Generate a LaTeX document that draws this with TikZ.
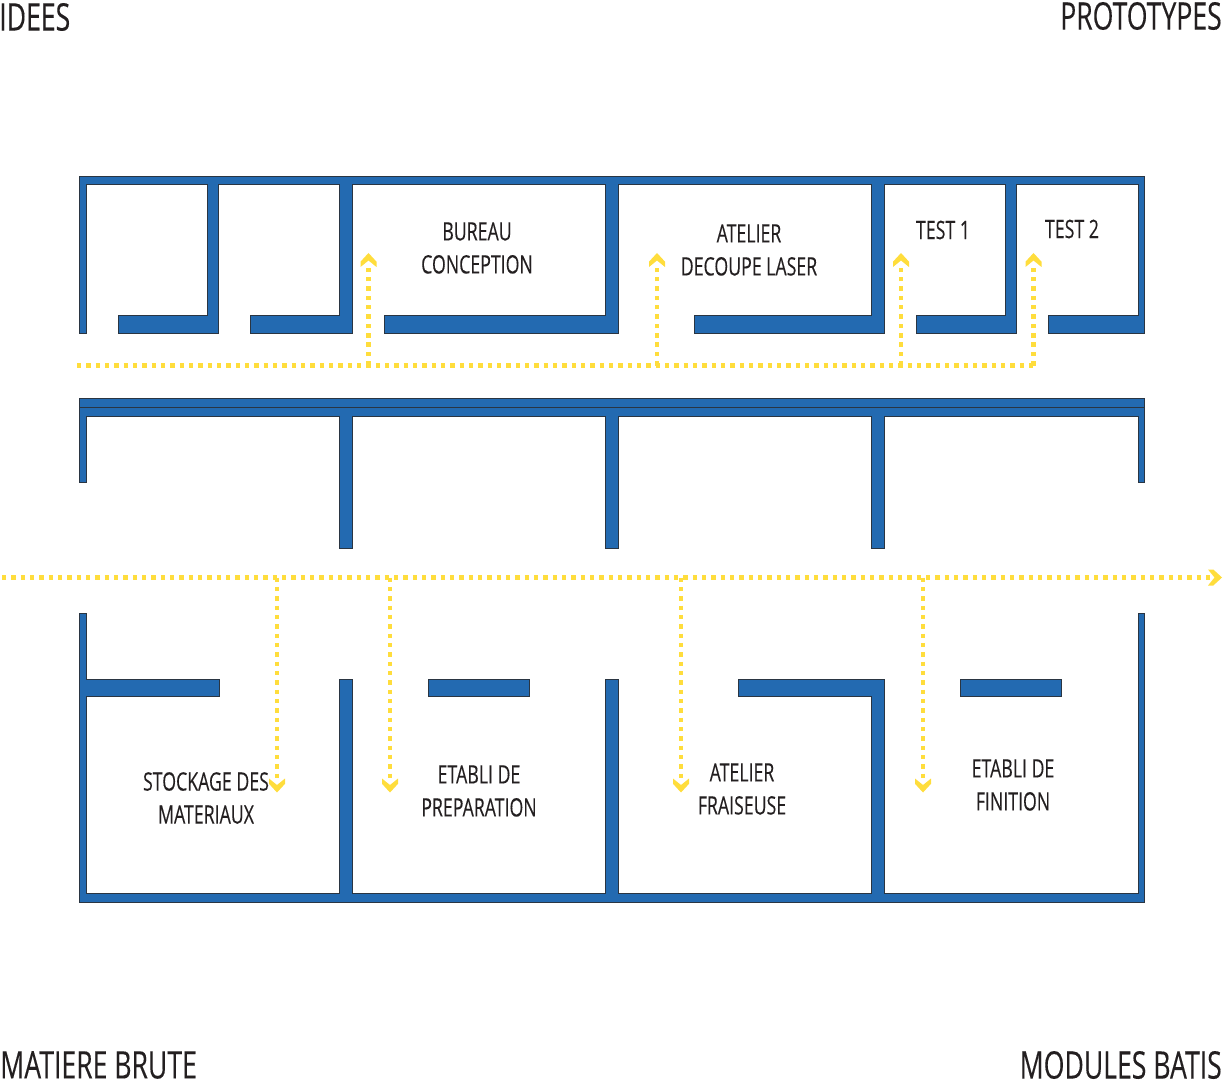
\documentclass[tikz,border=0pt]{standalone}
\usepackage{fontspec}
\setmainfont[FakeStretch=0.70,FakeBold=0.25]{Open Sans}
\definecolor{wallblue}{HTML}{236AB1}
\definecolor{walledge}{HTML}{2A3542}
\definecolor{routeyellow}{HTML}{FFDD3C}
\definecolor{inktext}{HTML}{231F20}
\tikzset{
  wall/.style={fill=wallblue,draw=walledge,line width=0.75pt,line join=miter},
  route/.style={draw=routeyellow,line width=3.3pt,dash pattern=on 3.3pt off 3.7pt},
  chevron/.pic={\fill[routeyellow] (0,0)--(8,8.7)--(8,14)--(0,7.5)--(-8,14)--(-8,8.7)--cycle;},
  roomlabel/.style={text=inktext,align=center,inner sep=0pt,font=\fontsize{19}{24.75}\selectfont},
  cornerlabel/.style={text=inktext,inner sep=0pt,font=\fontsize{28.5}{32}\selectfont},
}
\begin{document}
\begin{tikzpicture}[x=0.75pt,y=-0.75pt]
\useasboundingbox (0,0) rectangle (1223,1080);
% top block
\path[wall] (79.7,333)--(79.7,177)--(1144,177)--(1144,333)--(1048,333)--(1048,316)--(1138,316)--(1138,185)--(1016,185)--(1016,333)--(916,333)--(916,316)--(1005,316)--(1005,185)--(884,185)--(884,333)--(694,333)--(694,316)--(871,316)--(871,185)--(618,185)--(618,333)--(384,333)--(384,316)--(605,316)--(605,185)--(352,185)--(352,333)--(250,333)--(250,316)--(339,316)--(339,185)--(218,185)--(218,333)--(118,333)--(118,316)--(207,316)--(207,185)--(86,185)--(86,333)--cycle;
% middle block
\path[wall] (79.7,398) rectangle (1144,407);
\path[wall] (79.7,407)--(1144,407)--(1144,482)--(1138,482)--(1138,416)--(884,416)--(884,548)--(871,548)--(871,416)--(618,416)--(618,548)--(605,548)--(605,416)--(352,416)--(352,548)--(339,548)--(339,416)--(86,416)--(86,482)--(79.7,482)--cycle;
% bottom block
\path[wall] (79.7,613)--(86,613)--(86,679)--(219,679)--(219,696)--(86,696)--(86,893)--(339,893)--(339,679)--(352,679)--(352,893)--(605,893)--(605,679)--(618,679)--(618,893)--(871,893)--(871,696)--(738,696)--(738,679)--(884,679)--(884,893)--(1138,893)--(1138,613)--(1144,613)--(1144,902)--(79.7,902)--cycle;
\path[wall] (428,679) rectangle (529,696);
\path[wall] (960,679) rectangle (1061,696);
% route coordinates
\coordinate (ua) at (77,365.5);
\coordinate (ub) at (1036,365.5);
\coordinate (u1) at (368.5,365.5); \coordinate (e1) at (368.5,263); \coordinate (t1) at (368.5,253);
\coordinate (u2) at (657,365.5);   \coordinate (e2) at (657,263);   \coordinate (t2) at (657,253);
\coordinate (u3) at (901,365.5);   \coordinate (e3) at (901,263);   \coordinate (t3) at (901,253);
\coordinate (u4) at (1033.5,365.5);\coordinate (e4) at (1033.5,263);\coordinate (t4) at (1033.5,253);
\coordinate (la) at (2,577.5);
\coordinate (lb) at (1212,577.5);  \coordinate (tb) at (1222,577.5);
\coordinate (l1) at (277,577.5);   \coordinate (e5) at (277,782);   \coordinate (b1) at (277,792.5);
\coordinate (l2) at (390,577.5);   \coordinate (e6) at (390,782);   \coordinate (b2) at (390,792.5);
\coordinate (l3) at (681,577.5);   \coordinate (e7) at (681,782);   \coordinate (b3) at (681,792.5);
\coordinate (l4) at (923,577.5);   \coordinate (e8) at (923,782);   \coordinate (b4) at (923,792.5);
% routes
\draw[route] (ua)--(ub);
\draw[route] (u1)--(e1);
\draw[route] (u2)--(e2);
\draw[route] (u3)--(e3);
\draw[route] (u4)--(e4);
\draw[route] (la)--(lb);
\draw[route] (l1)--(e5);
\draw[route] (l2)--(e6);
\draw[route] (l3)--(e7);
\draw[route] (l4)--(e8);
% arrowheads
\pic at (t1) {chevron};
\pic at (t2) {chevron};
\pic at (t3) {chevron};
\pic at (t4) {chevron};
\pic[rotate=-90] at (tb) {chevron};
\pic[rotate=180] at (b1) {chevron};
\pic[rotate=180] at (b2) {chevron};
\pic[rotate=180] at (b3) {chevron};
\pic[rotate=180] at (b4) {chevron};
% labels
\node[roomlabel] (bureau) at (477,248) {BUREAU\\CONCEPTION};
\node[roomlabel] (laser) at (749,250) {ATELIER\\DECOUPE LASER};
\node[roomlabel] (test1) at (943,230) {TEST 1};
\node[roomlabel] (test2) at (1072,229) {TEST 2};
\node[roomlabel] (stock) at (206,798) {STOCKAGE DES\\MATERIAUX};
\node[roomlabel] (prep) at (479,791) {ETABLI DE\\PREPARATION};
\node[roomlabel] (frais) at (742,789) {ATELIER\\FRAISEUSE};
\node[roomlabel] (finit) at (1013,785) {ETABLI DE\\FINITION};
\node[cornerlabel,anchor=west] (idees) at (-1,17) {IDEES};
\node[cornerlabel,anchor=east] (proto) at (1222,16) {PROTOTYPES};
\node[cornerlabel,anchor=west] (matiere) at (0,1065) {MATIERE BRUTE};
\node[cornerlabel,anchor=east] (modules) at (1222,1065) {MODULES BATIS};
\end{tikzpicture}
\end{document}
